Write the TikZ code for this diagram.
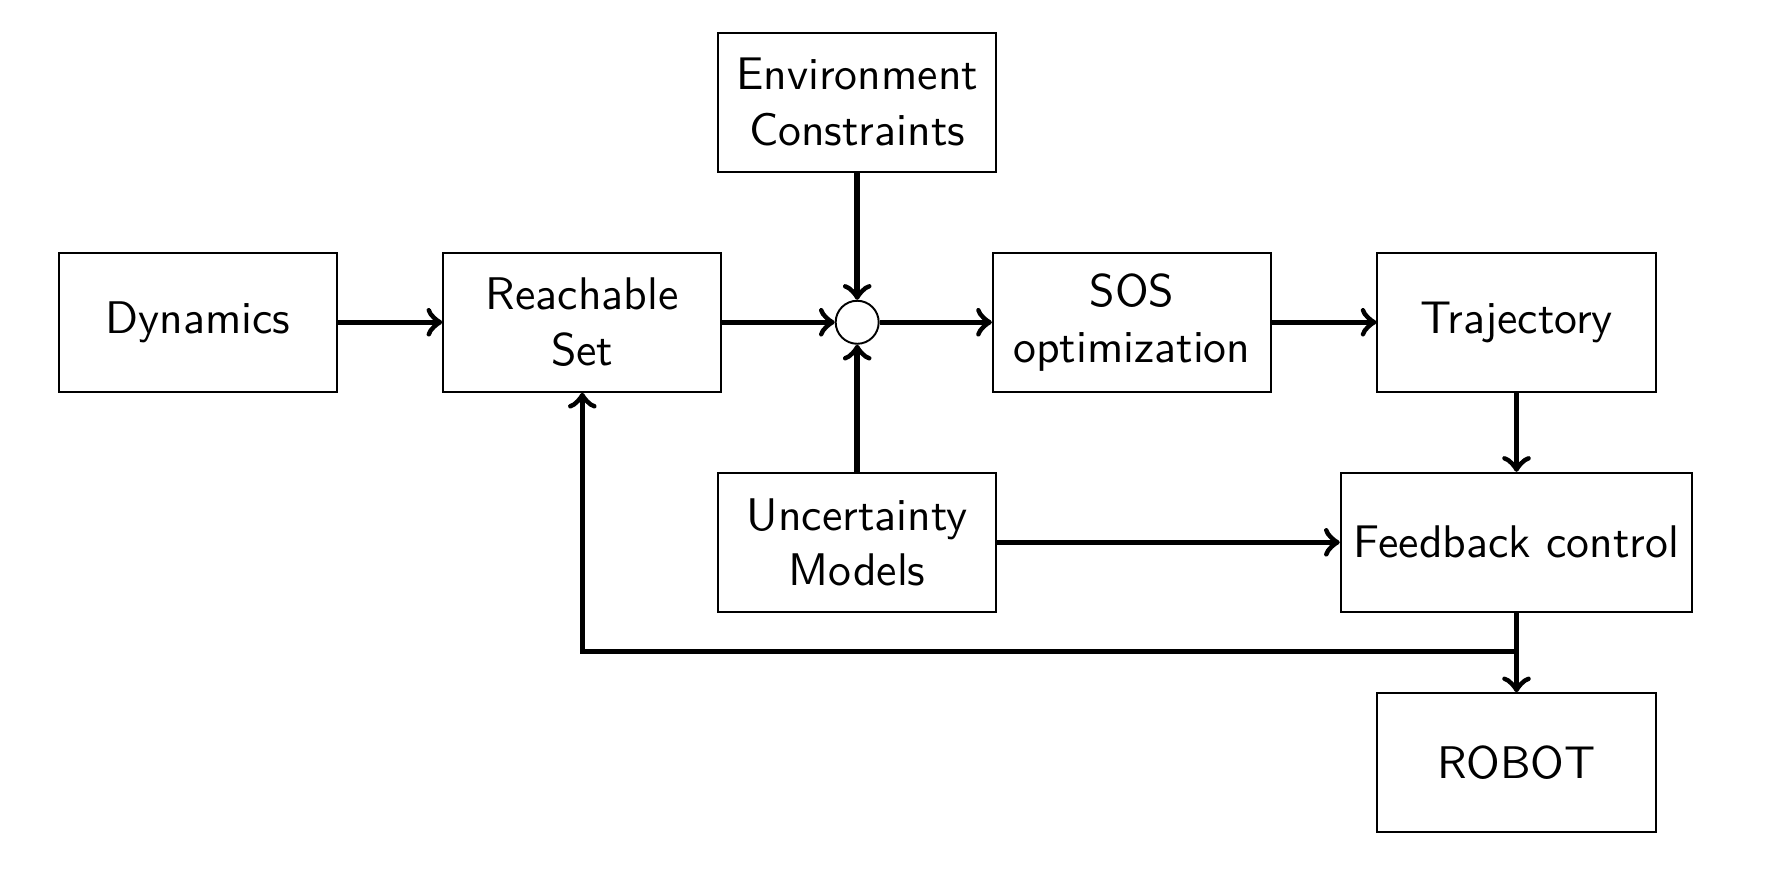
\documentclass[tikz,border=0pt]{standalone}
\usetikzlibrary{positioning}
\begin{document}
\begin{tikzpicture}[
  font=\sffamily\fontsize{9.5}{11.6}\selectfont,
  blockbox/.style={draw, line width=0.4pt, minimum width=2.03cm, minimum height=1.015cm, align=center, inner sep=1pt},
  sumnode/.style={draw, circle, line width=0.4pt, minimum size=0.314cm, inner sep=0pt},
  conn/.style={->, line width=1.15pt}
]
\useasboundingbox (0,0) rectangle (12.94,-6.453);
\node[blockbox] (dyn) at (1.444,-2.352) {Dynamics};
\node[blockbox] (reach) at (4.250,-2.352) {Reachable\\Set};
\node[blockbox] (env) at (6.256,-0.747) {Environment\\Constraints};
\node[sumnode] (sum) at (6.256,-2.352) {};
\node[blockbox] (sos) at (8.261,-2.352) {SOS\\optimization};
\node[blockbox] (traj) at (11.068,-2.352) {Trajectory};
\node[blockbox] (unc) at (6.256,-3.958) {Uncertainty\\Models};
\node[blockbox, minimum width=2.566cm] (fb) at (11.068,-3.958) {Feedback control};
\node[blockbox] (robot) at (11.068,-5.567) {ROBOT};
\coordinate (loopR) at (11.068,-4.754);
\coordinate (loopL) at (4.250,-4.754);

\draw[conn] (dyn) -- (reach);
\draw[conn] (reach) -- (sum);
\draw[conn] (env) -- (sum);
\draw[conn] (unc) -- (sum);
\draw[conn] (sum) -- (sos);
\draw[conn] (sos) -- (traj);
\draw[conn] (traj) -- (fb);
\draw[conn] (unc) -- (fb);
\draw[conn] (fb) -- (robot);
\draw[conn] (loopR) -- (loopL) -- (reach);
\end{tikzpicture}
\end{document}
